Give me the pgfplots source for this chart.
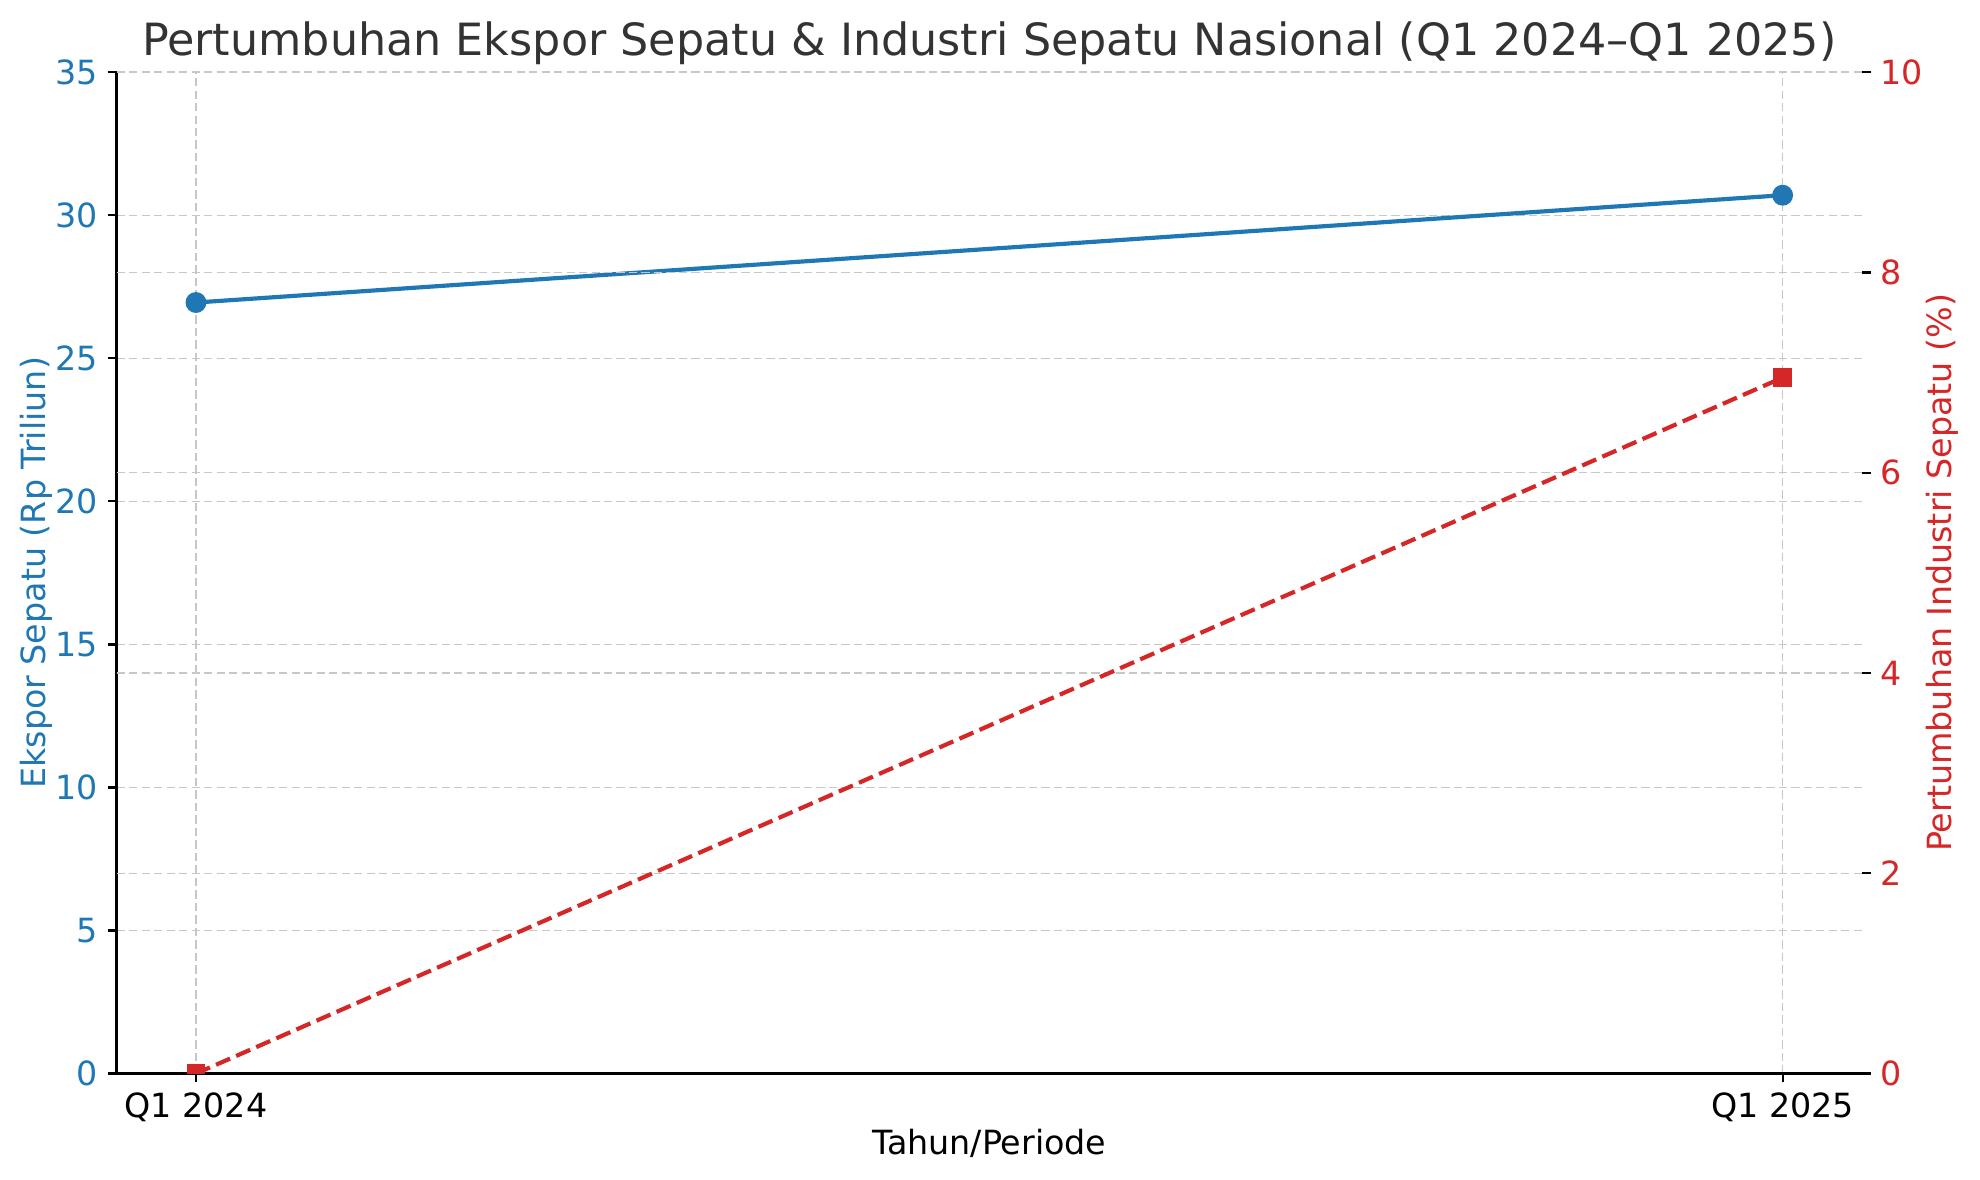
\documentclass[border=0pt]{standalone}
\usepackage{fontspec}
\setmainfont{DejaVu Sans}
\usepackage{pgfplots}
\pgfplotsset{compat=1.18}
\definecolor{cblue}{HTML}{1F77B4}
\definecolor{cred}{HTML}{D62728}
\definecolor{ctitle}{HTML}{333333}
\begin{document}
\begin{tikzpicture}
\useasboundingbox (-42pt,-38.3pt) rectangle (671pt,386.6pt);
\pgfplotsset{
  base/.style={
    at={(0,0)}, anchor=south west,
    width=628.5pt, height=360.6pt, scale only axis,
    xmin=-0.05, xmax=1.05,
    /pgf/number format/assume math mode=true,
    tick label style={font=\fontsize{12}{14}\selectfont},
    grid style={black!22, line width=0.5pt, dash pattern=on 3pt off 1.5pt},
    major tick length=3.2pt,
    tick align=outside,
    tick style={black, line width=0.8pt},
    axis line style={-, line width=0.9pt},
  }
}
% left axis: exports
\begin{axis}[base,
  axis x line*=bottom, axis y line*=left,
  ymin=0, ymax=35, ytick={0,5,...,35},
  xtick={0,1}, xticklabels={Q1 2024, Q1 2025},
  xmajorgrids, ymajorgrids,
  yticklabel style={text=cblue},
  ylabel={Ekspor Sepatu (Rp Triliun)},
  every axis y label/.style={at={(axis description cs:0,0.5)}, xshift=-29pt, rotate=90, anchor=center, text=cblue, font=\fontsize{12}{14}\selectfont},
  xlabel={Tahun/Periode},
  every axis x label/.style={at={(axis description cs:0.5,0)}, yshift=-25pt, anchor=center, font=\fontsize{12}{14}\selectfont},
  title={Pertumbuhan Ekspor Sepatu \& Industri Sepatu Nasional (Q1 2024–Q1 2025)},
  every axis title/.style={at={(axis description cs:0.5,1)}, yshift=10.5pt, anchor=center, text=ctitle, font=\fontsize{16}{19}\selectfont},
]
\addplot[cblue, line width=1.5pt, mark=*, mark size=3pt] coordinates {(0,26.95) (1,30.7)};
\end{axis}
% right axis: growth
\begin{axis}[base,
  axis x line=none, axis y line*=right,
  y axis line style={draw=none},
  ymin=0, ymax=10, ytick={2,4,...,10},
  extra y ticks={0}, extra y tick style={grid=none},
  ymajorgrids,
  yticklabel style={text=cred},
  ylabel={Pertumbuhan Industri Sepatu (\%)},
  every axis y label/.style={at={(axis description cs:1,0.5)}, xshift=29pt, rotate=90, anchor=center, text=cred, font=\fontsize{12}{14}\selectfont},
  clip marker paths=true,
]
\addplot[cred, line width=1.5pt, dash pattern=on 5.5pt off 2.4pt, mark=square*, mark size=2.6pt, mark options={solid}] coordinates {(0,0) (1,6.95)};
\end{axis}
\end{tikzpicture}
\end{document}
